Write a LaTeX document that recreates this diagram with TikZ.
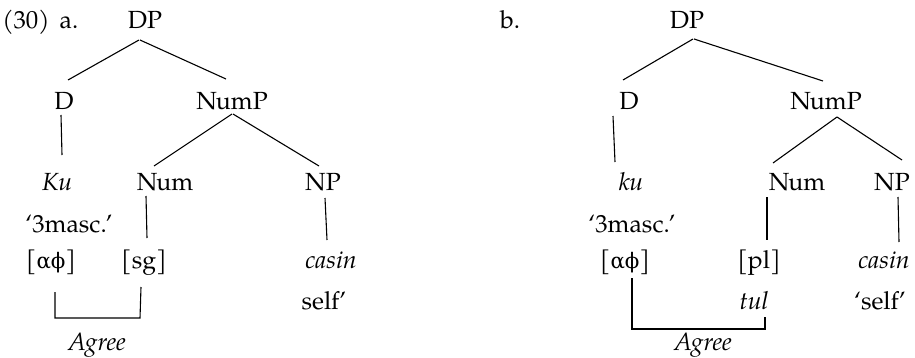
\documentclass[tikz,border=0pt]{standalone}
\usepackage{fontspec}
\setmainfont{TeX Gyre Pagella}
\newfontfamily\grk[Scale=0.86]{DejaVu Serif}
\begin{document}
\begin{tikzpicture}[x=0.5pt,y=-0.5pt,
  lbl/.style={inner sep=0pt,anchor=base,font=\fontsize{12.4}{14}\selectfont},
  it/.style={lbl,font=\fontsize{12.4}{14}\selectfont\itshape},
  edge/.style={line width=0.55pt}]
\useasboundingbox (0,0) rectangle (915,358);
% ---- tree a
\node[lbl] (ex) at (26,29) {(30)};
\node[lbl] (la) at (69,29) {a.};
\node[lbl] (DPa) at (145,29) {DP};
\node[lbl] (Da) at (64,110) {D};
\node[lbl] (NumPa) at (232,110) {NumP};
\node[it] (Kua) at (57,190) {Ku};
\node[lbl] (Numa) at (165,190) {Num};
\node[lbl] (NPa) at (323,190) {NP};
\node[lbl] (masca) at (69,232) {‘3masc.’};
\node[lbl] (phia) at (51,268) {[{\grk αϕ}]};
\node[lbl] (sga) at (144,268) {[sg]};
\node[it] (casina) at (331,268) {casin};
\node[lbl] (selfa) at (324,309) {self’};
\node[it] (Agreea) at (97,350) {Agree};
\draw[edge] ([xshift=-3pt,yshift=-5.5pt]DPa.base) -- ([xshift=2pt,yshift=15pt]Da.base);
\draw[edge] ([xshift=-2.5pt,yshift=-5.5pt]DPa.base) -- ([xshift=-3pt,yshift=15.5pt]NumPa.base);
\draw[edge] ([xshift=-1.5pt,yshift=-2.5pt]Da.base) -- ([xshift=2.5pt,yshift=17.5pt]Kua.base);
\draw[edge] ([xshift=0pt,yshift=-2pt]NumPa.base) -- ([xshift=-5.5pt,yshift=12pt]Numa.base);
\draw[edge] ([xshift=0.5pt,yshift=-2pt]NumPa.base) -- ([xshift=-2pt,yshift=12pt]NPa.base);
\draw[edge] ([xshift=-9.5pt,yshift=-3pt]Numa.base) -- ([xshift=1.5pt,yshift=15pt]sga.base);
\draw[edge] ([xshift=1pt,yshift=-4pt]NPa.base) -- ([xshift=-2pt,yshift=14pt]casina.base);
\draw[edge] ([xshift=2pt,yshift=-12pt]phia.base) -- ([xshift=2pt,yshift=-25pt]phia.base)
  -- ([xshift=-2pt,yshift=-25pt]sga.base) -- ([xshift=-1.5pt,yshift=-9.5pt]sga.base);
% ---- tree b
\node[lbl] (lb) at (510,29) {b.};
\node[lbl] (DPb) at (687,29) {DP};
\node[lbl] (Db) at (629,110) {D};
\node[lbl] (NumPb) at (826,110) {NumP};
\node[it] (kub) at (631,190) {ku};
\node[lbl] (Numb) at (797,190) {Num};
\node[lbl] (NPb) at (892,190) {NP};
\node[lbl] (mascb) at (632,232) {‘3masc.’};
\node[lbl] (phib) at (625,268) {[{\grk αϕ}]};
\node[lbl] (plb) at (759,268) {[pl]};
\node[it] (casinb) at (884,268) {casin};
\node[it] (tulb) at (754,309) {tul};
\node[lbl] (selfb) at (880,309) {‘self’};
\node[it] (Agreeb) at (703,350) {Agree};
\draw[edge] ([xshift=3pt,yshift=-5pt]DPb.base) -- ([xshift=-3pt,yshift=15pt]Db.base);
\draw[edge] ([xshift=3.5pt,yshift=-5pt]DPb.base) -- ([xshift=-1.5pt,yshift=14.5pt]NumPb.base);
\draw[edge] ([xshift=-8pt,yshift=-3pt]Db.base) -- ([xshift=-8pt,yshift=14pt]kub.base);
\draw[edge] ([xshift=5.5pt,yshift=-3.5pt]NumPb.base) -- ([xshift=-12pt,yshift=13.5pt]Numb.base);
\draw[edge] ([xshift=5.5pt,yshift=-3.5pt]NumPb.base) -- ([xshift=5pt,yshift=15pt]NPb.base);
\draw[edge] ([xshift=-15pt,yshift=-3.5pt]Numb.base) -- ([xshift=4pt,yshift=14pt]plb.base);
\draw[edge] ([xshift=3pt,yshift=-3.5pt]NPb.base) -- ([xshift=7.5pt,yshift=13pt]casinb.base);
\draw[edge] ([xshift=3.5pt,yshift=-5pt]phib.base) -- ([xshift=3.5pt,yshift=-30.5pt]phib.base)
  -- ([xshift=5.5pt,yshift=-10pt]tulb.base) -- ([xshift=5.5pt,yshift=-4pt]tulb.base);
\end{tikzpicture}
\end{document}
